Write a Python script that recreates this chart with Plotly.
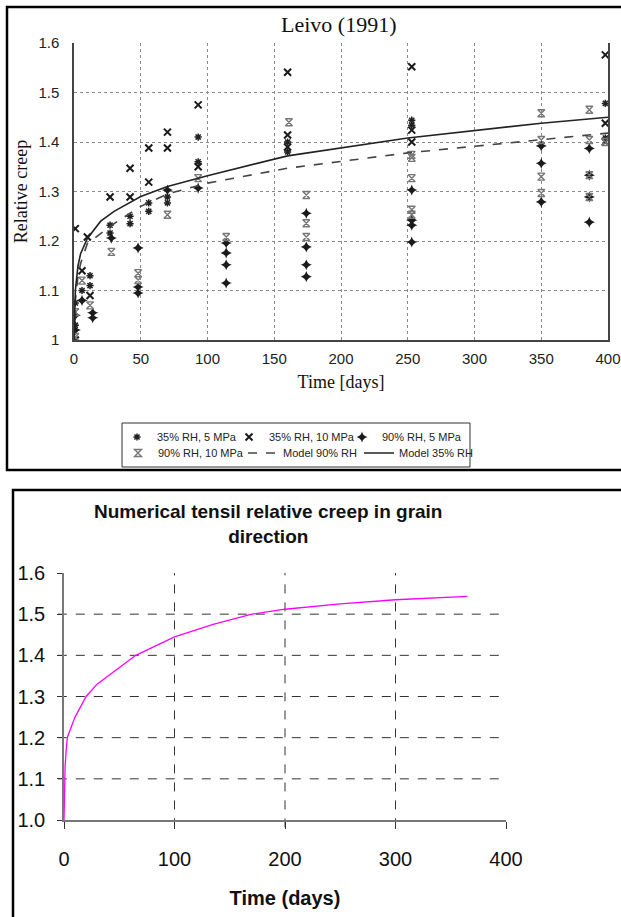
import plotly.graph_objects as go

# ---- Leivo (1991): measured relative creep per test condition ----
rh35_5mpa_days = [1, 1, 6, 12, 12, 27, 27, 42, 42, 56, 56, 70, 70, 93, 93,
                  160, 160, 253, 253, 398, 398]
rh35_5mpa_vals = [1.03, 1.075, 1.10, 1.11, 1.13, 1.232, 1.216, 1.25, 1.235,
                  1.277, 1.26, 1.289, 1.277, 1.41, 1.36, 1.40, 1.38, 1.444,
                  1.434, 1.478, 1.408]

rh35_10mpa_days = [1, 1, 6, 10, 12, 27, 42, 42, 56, 56, 70, 70, 93, 93, 160,
                   160, 160, 253, 253, 253, 398, 398, 398]
rh35_10mpa_vals = [1.225, 1.0, 1.14, 1.208, 1.09, 1.289, 1.347, 1.289, 1.388,
                   1.319, 1.42, 1.388, 1.475, 1.35, 1.541, 1.414, 1.39, 1.552,
                   1.424, 1.40, 1.576, 1.438, 1.40]

rh90_5mpa_days = [1, 1, 6, 14, 14, 28, 48, 48, 48, 70, 93, 114, 114, 114, 114,
                  174, 174, 174, 174, 253, 253, 253, 253, 350, 350, 350, 386,
                  386, 386, 386]
rh90_5mpa_vals = [1.02, 1.05, 1.08, 1.055, 1.045, 1.206, 1.186, 1.107, 1.095,
                  1.303, 1.307, 1.196, 1.176, 1.152, 1.115, 1.256, 1.188,
                  1.152, 1.128, 1.303, 1.242, 1.232, 1.198, 1.392, 1.357,
                  1.279, 1.387, 1.333, 1.289, 1.238]

rh90_10mpa_days = [1, 1, 6, 12, 28, 48, 48, 70, 93, 114, 161, 174, 174, 174,
                   253, 253, 253, 253, 253, 350, 350, 350, 350, 386, 386, 386,
                   386, 398]
rh90_10mpa_vals = [1.006, 1.056, 1.12, 1.07, 1.178, 1.135, 1.121, 1.253, 1.327,
                   1.208, 1.44, 1.293, 1.236, 1.208, 1.374, 1.368, 1.327,
                   1.263, 1.253, 1.458, 1.404, 1.33, 1.297, 1.465, 1.404,
                   1.333, 1.289, 1.40]

# ---- model curves ----
model_days = [0, 1, 3, 5, 10, 20, 30, 50, 70, 100, 160, 250, 350, 400]
model_rh35 = [1.0, 1.10, 1.15, 1.175, 1.205, 1.24, 1.26, 1.29, 1.31, 1.332,
              1.372, 1.408, 1.438, 1.45]
model_rh90 = [1.0, 1.08, 1.13, 1.155, 1.195, 1.215, 1.235, 1.27, 1.295, 1.317,
              1.347, 1.378, 1.404, 1.418]

# ---- numerical tensile relative creep ----
num_days = [0, 0.5, 1, 2, 3, 5, 10, 20, 30, 45, 65, 100, 135, 170, 200, 250,
            300, 365]
num_vals = [1.0, 1.10, 1.13, 1.17, 1.20, 1.215, 1.25, 1.30, 1.33, 1.36, 1.40,
            1.445, 1.475, 1.50, 1.512, 1.525, 1.535, 1.543]

# tick labels
top_x_ticks = [0, 50, 100, 150, 200, 250, 300, 350, 400]
top_y_ticks = [1.0, 1.1, 1.2, 1.3, 1.4, 1.5, 1.6]
top_y_text = ["1", "1.1", "1.2", "1.3", "1.4", "1.5", "1.6"]
bot_x_ticks = [0, 100, 200, 300, 400]
bot_y_ticks = [1.0, 1.1, 1.2, 1.3, 1.4, 1.5, 1.6]
bot_x_grid = [100, 200, 300]
bot_y_grid = [1.1, 1.2, 1.3, 1.4, 1.5]

W, H = 621, 917


def px(v):
    return v / W


def py(v):
    return 1 - v / H


ARIAL = "Liberation Sans, Arial, sans-serif"
TIMES = "Liberation Serif, Times New Roman, serif"

fig = go.Figure()

# each legend entry sits in its own one-item legend so the 3x2 key can be laid out freely
marker_specs = [
    (rh35_5mpa_days, rh35_5mpa_vals, "35% RH, 5 MPa",
     dict(symbol="asterisk-open", size=6, color="#222", line=dict(color="#222", width=1.5)), "legend"),
    (rh35_10mpa_days, rh35_10mpa_vals, "35% RH, 10 MPa",
     dict(symbol="x-thin-open", size=7, color="#1a1a1a", line=dict(color="#1a1a1a", width=2)), "legend2"),
    (rh90_5mpa_days, rh90_5mpa_vals, "90% RH, 5 MPa",
     dict(symbol="star-diamond", size=8, color="#1a1a1a", line=dict(width=0)), "legend3"),
    (rh90_10mpa_days, rh90_10mpa_vals, "90% RH, 10 MPa",
     dict(symbol="hourglass-open", size=7, color="#777", line=dict(color="#777", width=1.4)), "legend4"),
]
for xs, ys, name, mk, lg in marker_specs:
    fig.add_trace(go.Scatter(x=xs, y=ys, mode="markers", name=name, marker=mk,
                             xaxis="x", yaxis="y", legend=lg))

fig.add_trace(go.Scatter(x=model_days, y=model_rh90, mode="lines",
                         name="Model 90% RH", line=dict(color="#444", width=1.6, dash="dash"),
                         xaxis="x", yaxis="y", legend="legend5"))
fig.add_trace(go.Scatter(x=model_days, y=model_rh35, mode="lines",
                         name="Model 35% RH", line=dict(color="#222", width=1.6),
                         xaxis="x", yaxis="y", legend="legend6"))

fig.add_trace(go.Scatter(x=num_days, y=num_vals, mode="lines", showlegend=False,
                         line=dict(color="#ff00ff", width=1.3),
                         xaxis="x2", yaxis="y2"))

top_xdom = [px(74), px(608)]
top_ydom = [py(340), py(43)]
bot_xdom = [px(64), px(506)]
bot_ydom = [py(820), py(573)]


def key(x_left, y_mid):
    return dict(x=px(x_left), y=py(y_mid), orientation="h",
                bgcolor="rgba(0,0,0,0)", borderwidth=0,
                font=dict(family=ARIAL, size=11, color="#222"),
                xanchor="left", yanchor="middle",
                itemclick=False, itemdoubleclick=False)


shapes = [
    # panel frames
    dict(type="rect", xref="paper", yref="paper", x0=px(7), x1=px(625),
         y0=py(470), y1=py(7), line=dict(color="black", width=2.5)),
    dict(type="rect", xref="paper", yref="paper", x0=px(13), x1=px(625),
         y0=py(922), y1=py(490), line=dict(color="black", width=2.5)),
    # key box
    dict(type="rect", xref="paper", yref="paper", x0=px(122), x1=px(470),
         y0=py(467), y1=py(423), line=dict(color="#333", width=1)),
]
# dashed grid of the lower panel, placed on its own axes
for gx in bot_x_grid:
    shapes.append(dict(type="line", xref="x2", yref="y2 domain", x0=gx, x1=gx,
                       y0=-0.03, y1=1, layer="below",
                       line=dict(color="#333", width=1, dash="dash")))
for gy in bot_y_grid:
    shapes.append(dict(type="line", xref="x2 domain", yref="y2", x0=-0.014, x1=1,
                       y0=gy, y1=gy, layer="below",
                       line=dict(color="#333", width=1, dash="dash")))

fig.update_layout(
    width=W, height=H,
    margin=dict(l=0, r=0, t=0, b=0),
    paper_bgcolor="white", plot_bgcolor="rgba(0,0,0,0)",
    showlegend=True,
    legend=key(117, 437),
    legend2=key(229, 437),
    legend3=key(342, 437),
    legend4=key(118, 453),
    legend5=key(243, 453),
    legend6=key(359, 453),
    # top panel
    xaxis=dict(domain=top_xdom, anchor="y", range=[0, 400], tickmode="array",
               tickvals=top_x_ticks, showline=True, linecolor="#444", linewidth=1.5,
               showgrid=True, gridcolor="#8a8a8a", griddash="dot", gridwidth=1,
               zeroline=False, ticks="", ticklabelstandoff=4,
               tickfont=dict(family=ARIAL, size=15, color="#222"),
               title=dict(text="Time [days]", font=dict(family=TIMES, size=18, color="#111"),
                          standoff=10)),
    yaxis=dict(domain=top_ydom, anchor="x", range=[1.0, 1.6], tickmode="array",
               tickvals=top_y_ticks, ticktext=top_y_text, showline=True, mirror=True,
               linecolor="#444", linewidth=1.5, showgrid=True, gridcolor="#8a8a8a",
               griddash="dot", gridwidth=1, zeroline=False, ticks="",
               ticklabelstandoff=10,
               tickfont=dict(family=ARIAL, size=15, color="#222"),
               title=dict(text="Relative creep", font=dict(family=TIMES, size=18, color="#111"),
                          standoff=6)),
    # bottom panel
    xaxis2=dict(domain=bot_xdom, anchor="y2", range=[0, 400], tickmode="array",
                tickvals=bot_x_ticks, showline=True, linecolor="#777", linewidth=1.5,
                showgrid=False, zeroline=False, ticks="outside", ticklen=7,
                tickcolor="#333", tickwidth=1, ticklabelstandoff=13,
                tickfont=dict(family=ARIAL, size=20, color="#111"),
                title=dict(text="<b>Time (days)</b>",
                           font=dict(family=ARIAL, size=20, color="#111"), standoff=22)),
    yaxis2=dict(domain=bot_ydom, anchor="x2", range=[1.0, 1.6], tickmode="array",
                tickvals=bot_y_ticks, tickformat=".1f", showline=True, linecolor="#777",
                linewidth=1.5, showgrid=False, zeroline=False, ticks="outside",
                ticklen=5, tickcolor="#333", tickwidth=1, ticklabelstandoff=8,
                tickfont=dict(family=ARIAL, size=20, color="#111")),
    annotations=[
        dict(text="Leivo (1991)", x=px(338), y=py(25), xref="paper", yref="paper",
             showarrow=False, xanchor="center", yanchor="middle",
             font=dict(family=TIMES, size=22, color="#111")),
        dict(text="<b>Numerical tensil relative creep in grain<br>direction</b>",
             x=px(268), y=py(524), xref="paper", yref="paper", showarrow=False,
             xanchor="center", yanchor="middle",
             font=dict(family=ARIAL, size=19, color="#111")),
    ],
    shapes=shapes,
)

fig.update_xaxes(automargin=False)
fig.update_yaxes(automargin=False)

fig.write_html("out.html")
